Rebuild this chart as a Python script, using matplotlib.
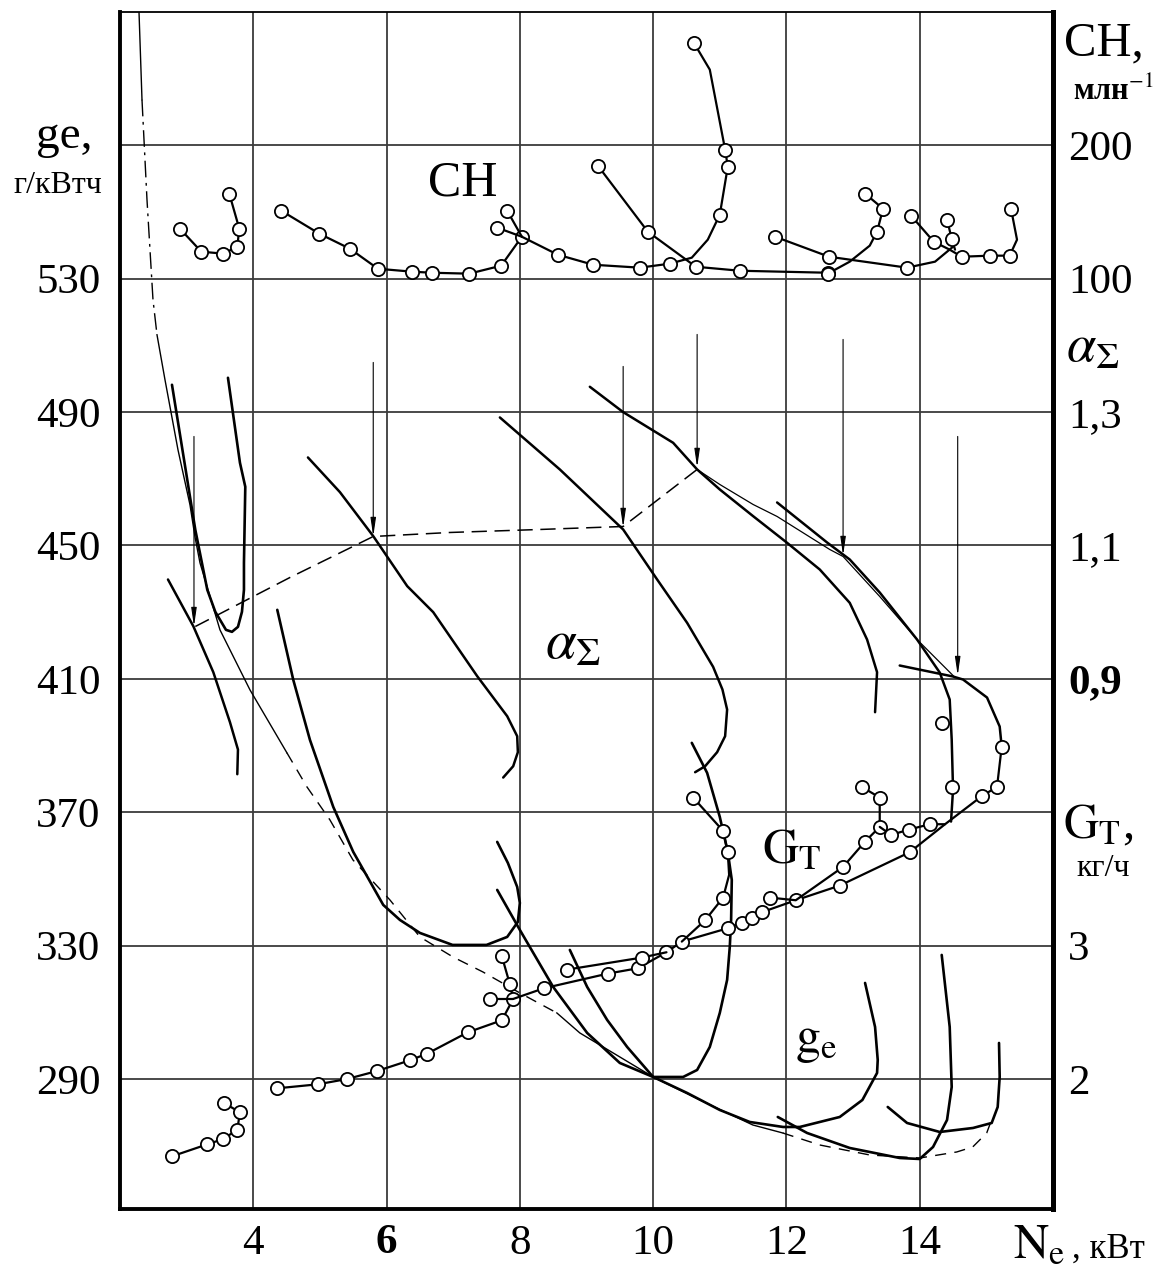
import matplotlib
matplotlib.use("Agg")
import matplotlib.pyplot as plt

plt.rcParams["font.family"] = ["Liberation Serif", "DejaVu Serif"]
plt.rcParams["mathtext.fontset"] = "stix"

W, H = 1173, 1276

# ---------------- data ----------------
# CH, ppm (right scale, 100 / 200)
ch1_x = [2.90, 3.22, 3.55, 3.76, 3.79, 3.64]
ch1_y = [137.5, 120.3, 118.8, 124.0, 137.5, 163.8]
ch2_x = [4.42, 4.99, 5.45, 5.87, 6.38, 6.68, 7.24, 7.72, 8.03]
ch2_y = [151.0, 133.8, 122.5, 107.5, 105.3, 104.5, 103.8, 109.8, 131.5]
ch2b_x = [7.66, 8.03]
ch2b_y = [138.3, 131.5]
ch2c_x = [7.81, 8.03]
ch2c_y = [151.0, 131.5]
ch3_x = [8.03, 8.57, 9.10, 9.80, 10.25, 10.58, 10.82, 11.00, 11.12, 11.08, 10.85, 10.61]
ch3_y = [131.5, 118.0, 110.5, 108.3, 111.3, 115.8, 129.3, 148.0, 184.0, 196.8, 256.8, 277.0]
ch4_x = [9.17, 9.92, 10.64, 11.30, 12.62]
ch4_y = [184.8, 135.3, 109.0, 106.0, 104.5]
ch5_x = [11.83, 12.64, 13.81, 14.23, 14.50]
ch5_y = [131.5, 116.5, 108.3, 112.8, 124.0]
ch6_x = [12.62, 12.95, 13.25, 13.36, 13.45, 13.18]
ch6_y = [103.8, 112.8, 124.8, 135.3, 152.5, 163.8]
ch7_x = [13.87, 14.21, 14.45, 14.63, 15.05, 15.35, 15.46, 15.37]
ch7_y = [147.3, 127.8, 121.8, 116.5, 117.3, 117.3, 129.3, 152.5]
ch7b_x = [14.41, 14.48, 14.53]
ch7b_y = [144.3, 130.0, 121.8]

# excess air ratio alpha_sum (right scale 0,9 / 1,1 / 1,3)
a1_x = [2.72, 3.10, 3.40, 3.65, 3.77, 3.76]
a1_y = [1.049, 0.979, 0.910, 0.835, 0.794, 0.757]
a2_x = [4.82, 5.30, 5.80, 6.31, 6.70, 7.36, 7.81, 7.96, 7.97, 7.90, 7.75]
a2_y = [1.232, 1.180, 1.114, 1.039, 1.000, 0.904, 0.844, 0.814, 0.790, 0.769, 0.752]
a3_x = [7.70, 8.60, 9.55, 10.06, 10.51, 10.90, 11.04, 11.11, 11.08, 10.96, 10.78, 10.63]
a3_y = [1.292, 1.214, 1.124, 1.049, 0.984, 0.918, 0.884, 0.854, 0.814, 0.790, 0.769, 0.760]
a4_x = [9.05, 9.55, 10.30, 10.66, 11.00, 11.50, 12.01, 12.50, 12.95, 13.21, 13.36, 13.33]
a4_y = [1.338, 1.300, 1.254, 1.214, 1.184, 1.144, 1.104, 1.064, 1.014, 0.959, 0.910, 0.850]
a5_x = [11.86, 12.61, 12.95, 13.40, 13.96, 14.30, 14.45, 14.48, 14.50, 14.47]
a5_y = [1.1645, 1.1045, 1.079, 1.0295, 0.959, 0.9095, 0.869, 0.809, 0.734, 0.686]
a6_x = [13.70, 14.50, 14.65, 15.01, 15.20, 15.23]
a6_y = [0.920, 0.9035, 0.899, 0.872, 0.8285, 0.7985]
aopt_x = [3.13, 4.55, 5.80, 6.95, 8.30, 9.55, 10.66]
aopt_y = [0.9785, 1.052, 1.1135, 1.1195, 1.124, 1.1285, 1.214]
aenv_x = [10.66, 11.00, 11.50, 11.86, 12.65, 12.85, 13.40, 13.96, 14.53]
aenv_y = [1.214, 1.1915, 1.1615, 1.1435, 1.094, 1.0835, 1.0235, 0.959, 0.902]
arrow_x = [3.11, 5.80, 9.55, 10.66, 12.85, 14.57]
arrow_top = [1.2635, 1.3745, 1.3685, 1.4165, 1.409, 1.2635]
arrow_end = [0.9785, 1.1135, 1.127, 1.217, 1.085, 0.905]

# fuel flow G_T, kg/h (right scale 2 / 3)
g1_x = [2.78, 3.31, 3.55, 3.76, 3.80, 3.56]
g1_y = [1.42, 1.51, 1.55, 1.62, 1.75, 1.82]
g2_x = [4.36, 4.97, 5.41, 5.86, 6.35, 6.61, 7.22, 7.73, 7.90, 7.85, 7.73]
g2_y = [1.93, 1.96, 2.00, 2.06, 2.14, 2.19, 2.35, 2.44, 2.60, 2.71, 2.92]
g2b_x = [7.55, 7.90]
g2b_y = [2.60, 2.60]
g3_x = [7.90, 8.36, 9.32, 9.77, 10.20, 10.43, 11.12, 11.33, 11.48, 11.63, 12.14,
        12.80, 13.85, 14.38, 14.93, 15.16, 15.23]
g3_y = [2.60, 2.68, 2.79, 2.83, 2.95, 3.03, 3.13, 3.17, 3.21, 3.25, 3.34,
        3.45, 3.70, 3.91, 4.12, 4.19, 4.49]
g4_x = [8.71, 9.83, 10.20]
g4_y = [2.82, 2.91, 2.95]
g5_x = [10.43, 10.78, 11.05, 11.14, 11.12, 11.05, 10.60]
g5_y = [3.03, 3.19, 3.36, 3.53, 3.70, 3.86, 4.11]
g6_x = [11.75, 12.14, 12.85, 13.18, 13.40, 13.40, 13.13]
g6_y = [3.36, 3.34, 3.59, 3.78, 3.89, 4.11, 4.19]
g7_x = [13.40, 13.57, 13.84, 14.15, 14.38]
g7_y = [3.89, 3.83, 3.87, 3.91, 3.91]
gpt_x = [14.33, 14.48]
gpt_y = [4.67, 4.19]

# specific fuel consumption g_e, g/kWh (left scale)
ge1_x = [2.78, 3.13, 3.31, 3.43, 3.59, 3.68, 3.77, 3.83, 3.86, 3.86, 3.88, 3.80, 3.62]
ge1_y = [498.2, 454.7, 436.7, 430.1, 424.7, 424.1, 425.6, 430.1, 436.7, 444.8, 467.6,
         474.8, 500.3]
ge2_x = [4.36, 4.60, 4.85, 5.20, 5.50, 5.95, 6.20, 6.50, 6.99, 7.50, 7.81, 7.97, 8.00,
         7.96, 7.82, 7.66]
ge2_y = [430.7, 409.7, 391.7, 371.6, 358.1, 342.2, 337.7, 333.8, 330.2, 330.2, 332.6,
         337.1, 342.8, 347.6, 354.8, 361.1]
ge3_x = [8.75, 9.01, 9.31, 9.61, 10.00, 10.45, 10.66, 10.85, 11.00, 11.11, 11.15,
         11.17, 11.18, 11.12, 11.00, 10.81, 10.58]
ge3_y = [328.7, 317.6, 307.7, 299.6, 290.6, 290.6, 292.7, 299.6, 309.8, 319.7, 329.6,
         337.7, 349.7, 358.1, 368.6, 381.8, 390.8]
ge4_x = [7.66, 8.00, 8.50, 9.01, 9.50, 10.00, 10.51, 11.00, 11.45, 11.95, 12.20,
         12.80, 13.14, 13.36, 13.37, 13.33, 13.18]
ge4_y = [346.7, 334.7, 317.6, 303.8, 294.8, 290.6, 285.8, 280.7, 277.1, 275.6, 275.6,
         278.6, 283.7, 291.8, 295.7, 305.6, 318.8]
ge5_x = [11.87, 12.31, 12.95, 13.70, 14.00, 14.20, 14.41, 14.48, 14.45, 14.33]
ge5_y = [278.6, 273.8, 269.3, 266.3, 266.0, 269.6, 277.7, 287.6, 305.6, 327.2]
ge6_x = [13.52, 13.81, 14.30, 14.80, 15.08, 15.17, 15.20, 15.19]
ge6_y = [281.6, 276.8, 274.1, 275.3, 276.8, 281.6, 290.6, 300.8]

# envelope of the g_e curves, split by line style
env_a_x = [2.285, 2.33]
env_a_y = [610.1, 583.7]
env_b_x = [2.33, 2.405, 2.495, 2.555]
env_b_y = [583.7, 553.7, 523.7, 513.2]
env_c_x = [2.555, 2.675, 2.87, 3.05, 3.125, 3.20, 3.50, 3.95, 4.505]
env_c_y = [513.2, 499.7, 478.7, 462.2, 452.6, 444.8, 424.7, 406.7, 387.8]
env_d_x = [4.505, 4.805, 5.15, 5.495, 6.05, 6.50, 6.995, 7.445, 8.00, 8.555]
env_d_y = [387.8, 377.6, 367.7, 355.7, 343.7, 332.6, 326.6, 322.1, 315.8, 309.8]
env_e_x = [8.555, 8.90, 9.50, 10.00, 10.70, 11.495, 11.945]
env_e_y = [309.8, 303.8, 296.6, 290.6, 283.7, 276.2, 273.8]
env_f_x = [11.945, 12.50, 13.25, 14.00, 14.555, 14.795, 15.005, 15.095]
env_f_y = [273.8, 270.2, 267.2, 266.3, 268.1, 269.6, 273.8, 278.6]

ge_ticks = [290, 330, 370, 410, 450, 490, 530, 570]
ge_labels = ["290", "330", "370", "410", "450", "490", "530", ""]
ne_ticks = [4, 6, 8, 10, 12, 14]
ch_ticks = [100, 200]
a_ticks = [0.9, 1.1, 1.3]
a_labels = ["0,9", "1,1", "1,3"]
g_ticks = [2, 3]

GE_LIM = (251, 610)


def draw(a, xs, ys, marks=None, lw=1.8, ls="-"):
    kw = {}
    if marks is not None:
        kw = dict(marker="o", ms=9.5, mfc="white", mec="k", mew=1.3,
                  markevery=None if marks == "all" else marks)
    a.plot(xs, ys, color="k", lw=lw, ls=ls, solid_capstyle="round",
           solid_joinstyle="round", **kw)


def ftext(x, y, s, size, **kw):
    fig.text(x / W, 1 - y / H, s, fontsize=size, va="baseline", ha="left", **kw)


fig = plt.figure(figsize=(W / 100, H / 100), dpi=100)
ax = fig.add_axes([120 / W, 1 - 1209 / H, 933 / W, 1197 / H])
ax.set_xlim(2, 16)
ax.set_ylim(*GE_LIM)

ax.set_yticks(ge_ticks)
ax.set_yticklabels(ge_labels)
ax.set_xticks(ne_ticks)
ax.set_xticklabels([str(t) for t in ne_ticks])
for lab in ax.get_xticklabels():
    if lab.get_text() == "6":
        lab.set_fontweight("bold")
ax.tick_params(axis="y", length=0, pad=14, labelsize=31)
ax.tick_params(axis="x", length=0, pad=11, labelsize=31)
ax.grid(True, color="#3c3c3c", lw=1.3)
ax.set_axisbelow(True)
ax.spines["left"].set_linewidth(2.8)
ax.spines["bottom"].set_linewidth(2.8)
ax.spines["right"].set_linewidth(3.6)
ax.spines["top"].set_linewidth(1.3)

# twin scales sharing the same grid
ax_ch = ax.twinx()
ax_ch.set_ylim(100 + (GE_LIM[0] - 530) * 2.5, 100 + (GE_LIM[1] - 530) * 2.5)
ax_a = ax.twinx()
ax_a.set_ylim(1.1 + (GE_LIM[0] - 450) * 0.005, 1.1 + (GE_LIM[1] - 450) * 0.005)
ax_g = ax.twinx()
ax_g.set_ylim(2 + (GE_LIM[0] - 290) * 0.025, 2 + (GE_LIM[1] - 290) * 0.025)

ax_ch.set_yticks(ch_ticks)
ax_ch.set_yticklabels([str(t) for t in ch_ticks])
ax_a.set_yticks(a_ticks)
ax_a.set_yticklabels(a_labels)
for lab in ax_a.get_yticklabels():
    if lab.get_text() == "0,9":
        lab.set_fontweight("bold")
ax_g.set_yticks(g_ticks)
ax_g.set_yticklabels([str(t) for t in g_ticks])
for tw in (ax_ch, ax_a, ax_g):
    for s in tw.spines.values():
        s.set_visible(False)
    tw.tick_params(axis="y", length=0, pad=11, labelsize=31)

# CH
draw(ax_ch, ch1_x, ch1_y, "all", lw=1.6)
draw(ax_ch, ch2_x, ch2_y, "all", lw=1.6)
draw(ax_ch, ch2b_x, ch2b_y, [0], lw=1.6)
draw(ax_ch, ch2c_x, ch2c_y, [0], lw=1.6)
draw(ax_ch, ch3_x, ch3_y, [1, 2, 3, 4, 7, 8, 9, 11], lw=1.6)
draw(ax_ch, ch4_x, ch4_y, "all", lw=1.6)
draw(ax_ch, ch5_x, ch5_y, [0, 1, 2], lw=1.6)
draw(ax_ch, ch6_x, ch6_y, [0, 3, 4, 5], lw=1.6)
draw(ax_ch, ch7_x, ch7_y, [0, 1, 3, 4, 5, 7], lw=1.6)
draw(ax_ch, ch7b_x, ch7b_y, [0, 1], lw=1.6)

# alpha
for xs, ys in [(a1_x, a1_y), (a2_x, a2_y), (a3_x, a3_y),
               (a4_x, a4_y), (a5_x, a5_y), (a6_x, a6_y)]:
    draw(ax_a, xs, ys, lw=1.8)
ax_a.plot(aopt_x, aopt_y, color="k", lw=1.1, dashes=(10, 5))
ax_a.plot(aenv_x, aenv_y, color="k", lw=0.9)
for x, top, end in zip(arrow_x, arrow_top, arrow_end):
    ax_a.annotate("", xy=(x, end), xytext=(x, top),
                  arrowprops=dict(arrowstyle="-|>,head_length=1.1,head_width=0.16",
                                  color="k", lw=0.8, shrinkA=0, shrinkB=0))

# G_T
draw(ax_g, g1_x, g1_y, "all", lw=1.6)
draw(ax_g, g2_x, g2_y, "all", lw=1.6)
draw(ax_g, g2b_x, g2b_y, [0], lw=1.6)
draw(ax_g, g3_x, g3_y, [1, 2, 3, 4, 5, 6, 7, 8, 9, 10, 11, 12, 14, 15, 16], lw=1.6)
draw(ax_g, g4_x, g4_y, [0, 1], lw=1.6)
draw(ax_g, g5_x, g5_y, [1, 2, 4, 5, 6], lw=1.6)
draw(ax_g, g6_x, g6_y, [0, 2, 3, 4, 5, 6], lw=1.6)
draw(ax_g, g7_x, g7_y, [1, 2, 3], lw=1.6)
ax_g.plot(gpt_x, gpt_y, ls="none", marker="o", ms=9.5, mfc="white", mec="k", mew=1.3)

# g_e
for xs, ys in [(ge1_x, ge1_y), (ge2_x, ge2_y), (ge3_x, ge3_y),
               (ge4_x, ge4_y), (ge5_x, ge5_y), (ge6_x, ge6_y)]:
    draw(ax, xs, ys, lw=1.9)
ax.plot(env_a_x, env_a_y, color="k", lw=1.0)
ax.plot(env_b_x, env_b_y, color="k", lw=1.0, dashes=(12, 4, 2, 4))
ax.plot(env_c_x, env_c_y, color="k", lw=1.0)
ax.plot(env_d_x, env_d_y, color="k", lw=1.0, dashes=(8, 6))
ax.plot(env_e_x, env_e_y, color="k", lw=1.0)
ax.plot(env_f_x, env_f_y, color="k", lw=1.0, dashes=(8, 6))

# axis captions
ftext(36, 148, "ge,", 34)
ftext(13, 193, "г/кВтч", 23)
ftext(1064, 55, "CH,", 35)
ftext(1073, 100, "млн$^{-1}$", 22, fontweight="bold")
ftext(1066, 362, r"$\alpha_{\Sigma}$", 38)
ftext(1063, 838, r"$\mathrm{G_T}$,", 35)
ftext(1076, 876, "кг/ч", 23)
ftext(1013, 1258, r"$\mathrm{N_e}$", 35)
ftext(1072, 1258, ", кВт", 25)

# in-plot labels
ftext(428, 195, "CH", 36)
ftext(545, 658, r"$\alpha_{\Sigma}$", 40)
ftext(762, 863, r"$\mathrm{G_T}$", 36)
ftext(795, 1052, r"$\mathrm{g_e}$", 36)

fig.savefig("out.png", dpi=100)
